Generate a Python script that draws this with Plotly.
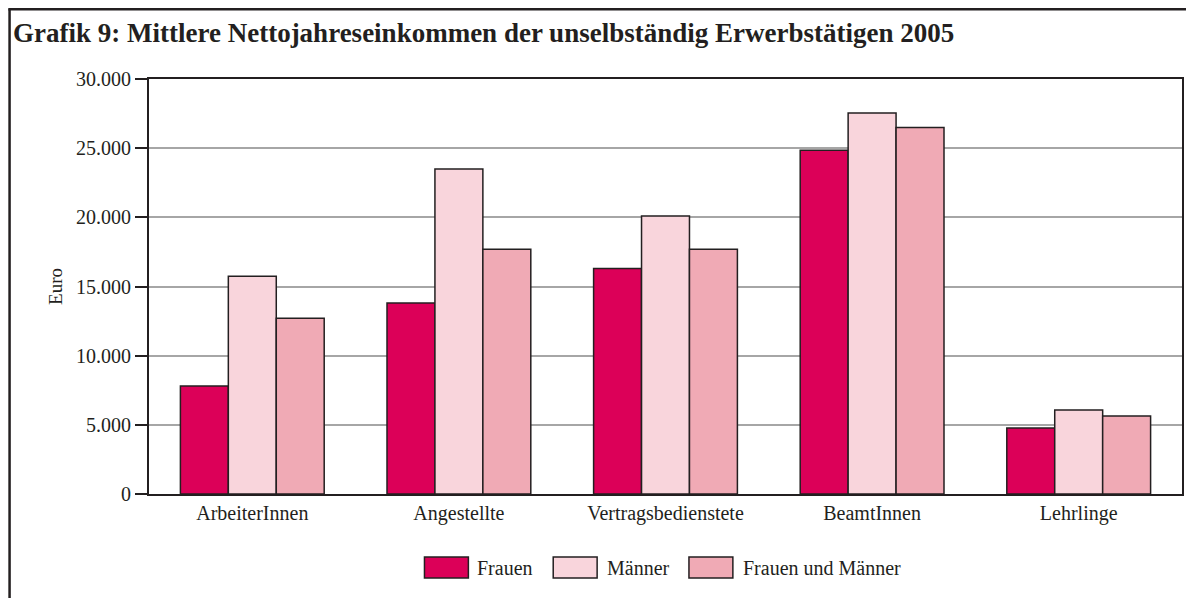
import plotly.graph_objects as go

categories = ["ArbeiterInnen", "Angestellte", "Vertragsbedienstete", "BeamtInnen", "Lehrlinge"]
frauen = [7800, 13800, 16300, 24850, 4770]
maenner = [15750, 23500, 20100, 27550, 6070]
beide = [12700, 17700, 17700, 26500, 5640]
series_names = ["Frauen", "Männer", "Frauen und Männer"]
colors = ["#dc0058", "#f9d5dc", "#f0aab5"]
y_ticks = [0, 5000, 10000, 15000, 20000, 25000, 30000]

DARK = "#231f20"
FONT = "Liberation Serif, Times New Roman, serif"

fig = go.Figure()
for name, vals, col in zip(series_names, [frauen, maenner, beide], colors):
    fig.add_trace(go.Bar(
        x=categories, y=vals, name=name,
        marker=dict(color=col, line=dict(color=DARK, width=1.5)),
        showlegend=False,
    ))

# page body has an 8px margin on every side; keep the page inside the window
OFF = 8
W, H = 1196 - 2 * OFF, 606 - 2 * OFF
L, T = 149 - OFF, 79 - OFF
R = (OFF + W) - 1184
B = (OFF + H) - 494
pw, ph = W - L - R, H - T - B

def px_x(sx):
    return (sx - OFF - L) / pw

def px_y(sy):
    return (H - B - (sy - OFF)) / ph

frame = dict(color=DARK, width=2.5)
shapes = [
    dict(type="line", xref="paper", yref="paper",
         x0=px_x(OFF + 1.3), x1=px_x(OFF + 1.3), y0=px_y(OFF + H), y1=px_y(OFF + 1.3),
         line=frame, layer="below"),
    dict(type="line", xref="paper", yref="paper",
         x0=px_x(OFF), x1=px_x(OFF + W), y0=px_y(OFF + 1.3), y1=px_y(OFF + 1.3),
         line=frame, layer="below"),
]
annotations = []
legend_items = [(425, 479), (554, 609), (690, 745)]
for (sx, tx), name, col in zip(legend_items, series_names, colors):
    shapes.append(dict(type="rect", xref="paper", yref="paper",
                       x0=px_x(sx), x1=px_x(sx + 44), y0=px_y(578), y1=px_y(557),
                       line=dict(color=DARK, width=1.5), fillcolor=col))
    annotations.append(dict(xref="paper", yref="paper", x=px_x(tx - 3), y=px_y(567.5),
                            text=name, showarrow=False, xanchor="left", yanchor="middle",
                            font=dict(family=FONT, size=20, color=DARK)))

fig.update_layout(
    width=W, height=H,
    margin=dict(l=L, r=R, t=T, b=B),
    paper_bgcolor="white", plot_bgcolor="white",
    separators=",.",
    barmode="group", bargap=0.304, bargroupgap=0,
    font=dict(family=FONT, size=20, color=DARK),
    title=dict(text="<b>Grafik 9: Mittlere Nettojahreseinkommen der unselbständig Erwerbstätigen 2005</b>",
               x=(13 - OFF) / W, xanchor="left", y=1 - (33 - OFF) / H, yanchor="middle",
               xref="container", yref="container",
               font=dict(family=FONT, size=27, color=DARK)),
    shapes=shapes,
    annotations=annotations,
)
fig.update_yaxes(
    range=[0, 30000], tickvals=y_ticks, tickformat=",d",
    ticks="outside", ticklen=12, tickwidth=2, tickcolor=DARK,
    showgrid=True, gridcolor="#a6a6a6", gridwidth=1.5,
    showline=True, linecolor=DARK, linewidth=2, mirror=True,
    zeroline=False,
    tickfont=dict(family=FONT, size=20, color=DARK),
    title=dict(text="Euro", standoff=8, font=dict(family=FONT, size=19, color=DARK)),
)
fig.update_xaxes(
    showline=True, linecolor=DARK, linewidth=2, mirror=True,
    ticks="", tickfont=dict(family=FONT, size=20, color=DARK),
)

fig.write_html("out.html")
